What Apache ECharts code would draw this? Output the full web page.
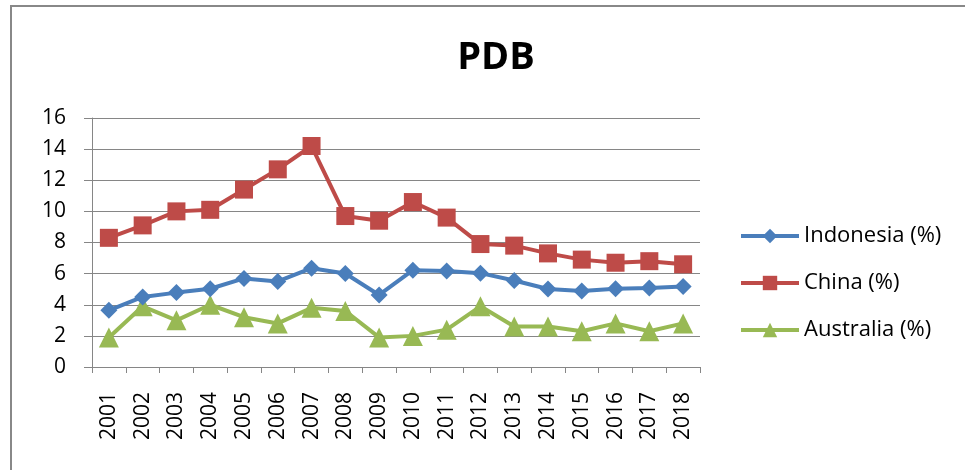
<!DOCTYPE html>
<html>
<head>
<meta charset="utf-8">
<script src="https://cdn.jsdelivr.net/npm/echarts@6/dist/echarts.min.js"></script>
<style>html,body{margin:0;padding:0;background:#fff}#c{width:965px;height:470px}</style>
</head>
<body>
<div id="c"></div>
<script>
const years = ['2001','2002','2003','2004','2005','2006','2007','2008','2009','2010','2011','2012','2013','2014','2015','2016','2017','2018'];
const indonesia = [3.64, 4.5, 4.78, 5.03, 5.69, 5.5, 6.35, 6.01, 4.63, 6.22, 6.17, 6.03, 5.56, 5.01, 4.88, 5.03, 5.07, 5.17];
const china = [8.3, 9.1, 10.0, 10.1, 11.4, 12.7, 14.2, 9.7, 9.4, 10.6, 9.6, 7.9, 7.8, 7.3, 6.9, 6.7, 6.8, 6.6];
const australia = [1.9, 3.9, 3.0, 4.0, 3.2, 2.8, 3.8, 3.6, 1.9, 2.0, 2.4, 3.9, 2.6, 2.6, 2.3, 2.8, 2.3, 2.8];
const seriesNames = ['Indonesia (%)', 'China (%)', 'Australia (%)'];
const yTicks = [0, 2, 4, 6, 8, 10, 12, 14, 16];

const FONT = '"Open Sans", "Liberation Sans", sans-serif';
const chart = echarts.init(document.getElementById('c'), null, {renderer: 'canvas'});
const colors = ['#4A7EBB', '#BE4B48', '#98B954'];
const symbols = ['diamond', 'rect', 'triangle'];
const sizes = [17, 18, 20];
const datas = [indonesia, china, australia];

chart.setOption({
  animation: false,
  backgroundColor: '#fff',
  title: {
    text: 'PDB',
    left: 491, top: 34,
    textAlign: 'center',
    textStyle: {fontFamily: FONT, fontSize: 38, fontWeight: 'bold', color: '#000'}
  },
  graphic: [{
    type: 'rect', shape: {x: 11, y: 6, width: 1000, height: 1000},
    style: {fill: 'none', stroke: '#888', lineWidth: 2}, silent: true
  }],
  legend: {
    orient: 'vertical', left: 734, top: 219,
    itemWidth: 58, itemHeight: 18, itemGap: 23,
    lineStyle: {width: 4},
    textStyle: {fontFamily: FONT, fontSize: 22, color: '#000', lineHeight: 24},
    data: seriesNames
  },
  grid: {left: 92, top: 118, width: 608, height: 249, containLabel: false},
  xAxis: {
    type: 'category', data: years, boundaryGap: true,
    axisLine: {lineStyle: {color: '#868686', width: 1}},
    axisTick: {show: true, length: 6, alignWithLabel: false, lineStyle: {color: '#868686'}},
    axisLabel: {rotate: 90, fontFamily: FONT, fontSize: 21, color: '#000', margin: 25, interval: 0}
  },
  yAxis: {
    type: 'value', min: yTicks[0], max: yTicks[yTicks.length - 1], interval: 2,
    axisLine: {show: true, lineStyle: {color: '#868686', width: 1}},
    axisTick: {show: true, length: 8, lineStyle: {color: '#868686'}},
    splitLine: {show: true, lineStyle: {color: '#868686', width: 1}},
    axisLabel: {fontFamily: FONT, fontSize: 21, color: '#000', margin: 26}
  },
  series: seriesNames.map((n, i) => ({
    name: n, type: 'line', data: datas[i],
    symbol: symbols[i], symbolSize: sizes[i], showAllSymbol: true,
    lineStyle: {color: colors[i], width: 4},
    itemStyle: {color: colors[i]},
    z: 3 - i
  }))
});
</script>
</body>
</html>
